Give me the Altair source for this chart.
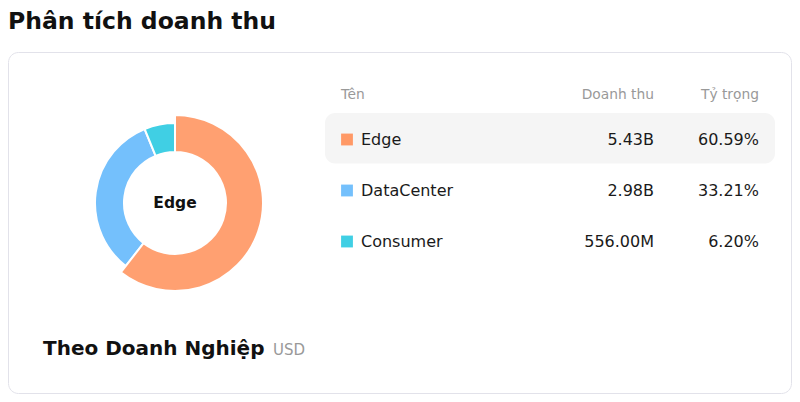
import altair as alt
import pandas as pd
import math

# ---- data ----
names = ["Edge", "DataCenter", "Consumer"]
revenue = [5.43e9, 2.98e9, 556.0e6]
revenue_labels = ["5.43B", "2.98B", "556.00M"]
share_labels = ["60.59%", "33.21%", "6.20%"]
colors = ["#FF9966", "#74C0FC", "#40CFE4"]
highlight = "Edge"

df = pd.DataFrame({
    "idx": list(range(len(names))),
    "name": names,
    "revenue": revenue,
    "rev_label": revenue_labels,
    "share_label": share_labels,
})
one = pd.DataFrame({"k": [0]})

# whole page must fit the 800x402 window (8px body margin on every side)
W, H = 784, 386
FONT = "DejaVu Sans"

color_scale = alt.Scale(domain=names, range=colors)
row_scale = alt.Scale(domain=[0, 2], range=[131.5, 233.5])
theta_scale = alt.Scale(domain=[0, 1], range=[0, 2 * math.pi])

base = alt.Chart(df)

card = alt.Chart(one).mark_rect(
    fill="white", stroke="#E2E2EA", strokeWidth=1, cornerRadius=10
).encode(x=alt.value(0.5), x2=alt.value(783.5), y=alt.value(44.5), y2=alt.value(385.5))

title = alt.Chart(one).mark_text(
    text="Phân tích doanh thu", font=FONT, fontSize=23.5, fontWeight="bold",
    align="left", baseline="alphabetic", color="#111111"
).encode(x=alt.value(0), y=alt.value(20.5))

hl = base.transform_filter(alt.datum.name == highlight).transform_calculate(
    lo="datum.idx - 0.52", hi="datum.idx + 0.47"
).mark_rect(fill="#F5F5F5", cornerRadius=10).encode(
    x=alt.value(317), x2=alt.value(767),
    y=alt.Y("lo:Q", scale=row_scale, axis=None), y2="hi:Q",
)

hdr_kw = dict(font=FONT, fontSize=13.8, color="#999999", baseline="middle")
h1 = alt.Chart(one).mark_text(text="Tên", align="left", **hdr_kw).encode(x=alt.value(333), y=alt.value(87.2))
h2 = alt.Chart(one).mark_text(text="Doanh thu", align="right", **hdr_kw).encode(x=alt.value(646), y=alt.value(87.2))
h3 = alt.Chart(one).mark_text(text="Tỷ trọng", align="right", **hdr_kw).encode(x=alt.value(751), y=alt.value(87.2))

squares = base.mark_square(size=140, opacity=1).encode(
    x=alt.value(339),
    y=alt.Y("idx:Q", scale=row_scale, axis=None),
    color=alt.Color("name:N", scale=color_scale, legend=None),
)

row_kw = dict(font=FONT, fontSize=16, color="#1a1a1a", baseline="middle")
name_t = base.mark_text(align="left", **row_kw).encode(
    x=alt.value(353), y=alt.Y("idx:Q", scale=row_scale, axis=None), text="name:N")
rev_t = base.mark_text(align="right", **row_kw).encode(
    x=alt.value(646), y=alt.Y("idx:Q", scale=row_scale, axis=None), text="rev_label:N")
share_t = base.mark_text(align="right", **row_kw).encode(
    x=alt.value(751), y=alt.Y("idx:Q", scale=row_scale, axis=None), text="share_label:N")

arc_base = base.transform_window(
    cum="sum(revenue)", sort=[alt.SortField("idx")]
).transform_joinaggregate(total="sum(revenue)").transform_calculate(
    t0="(datum.cum - datum.revenue) / datum.total", t1="datum.cum / datum.total"
)
arc_enc = dict(
    theta=alt.Theta("t0:Q", scale=theta_scale),
    theta2="t1:Q",
    color=alt.Color("name:N", scale=color_scale, legend=None),
    x=alt.value(167), y=alt.value(195),
)
arcs_other = arc_base.transform_filter(alt.datum.name != highlight).mark_arc(
    innerRadius=51, outerRadius=80, stroke="white", strokeWidth=2
).encode(**arc_enc)
arcs_hl = arc_base.transform_filter(alt.datum.name == highlight).mark_arc(
    innerRadius=51, outerRadius=88, stroke="white", strokeWidth=2, opacity=0.92
).encode(**arc_enc)

center = base.transform_filter(alt.datum.name == highlight).mark_text(
    font=FONT, fontSize=15.5, fontWeight="bold", color="#111111",
    align="center", baseline="middle"
).encode(x=alt.value(167), y=alt.value(194.6), text="name:N")

foot1 = alt.Chart(one).mark_text(
    text="Theo Doanh Nghiệp", font=FONT, fontSize=20, fontWeight="bold",
    align="left", baseline="alphabetic", color="#111111"
).encode(x=alt.value(35), y=alt.value(347))
foot2 = alt.Chart(one).mark_text(
    text="USD", font=FONT, fontSize=15, color="#999999",
    align="left", baseline="alphabetic"
).encode(x=alt.value(265), y=alt.value(347))

chart = alt.layer(
    card, title, hl, h1, h2, h3, squares, name_t, rev_t, share_t,
    arcs_other, arcs_hl, center, foot1, foot2
).properties(
    width=W, height=H, autosize=alt.AutoSizeParams(type="none"), padding=0
).configure_view(stroke=None)

chart.save("out.html", embed_options={"renderer": "svg", "actions": False})
